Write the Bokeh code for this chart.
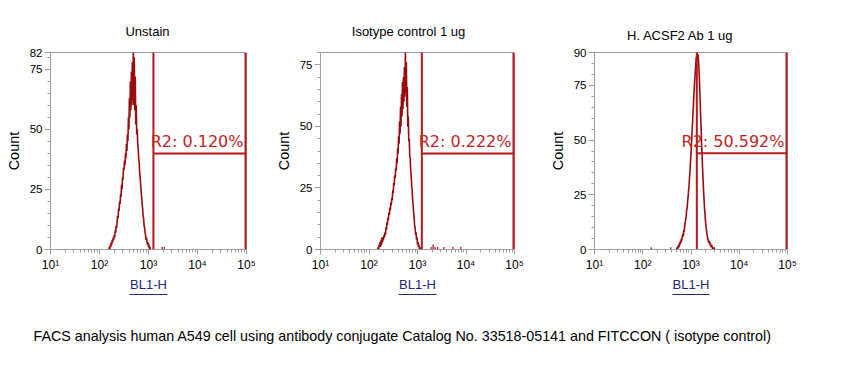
import numpy as np
from bokeh.plotting import figure
from bokeh.layouts import column, row
from bokeh.models import (Range1d, FixedTicker, LogTicker, CustomJSTickFormatter,
                          Label, LogAxis)
from bokeh.core.properties import value
from bokeh.embed import file_html
from bokeh.resources import INLINE

# ---------------- data ----------------
titles = ["Unstain", "Isotype control 1 ug", "H. ACSF2 Ab 1 ug"]
gate_texts = ["R2: 0.120%", "R2: 0.222%", "R2: 50.592%"]
y_max = [82, 80, 90]
y_ticks = [[0, 25, 50, 75, 82], [0, 25, 50, 75], [0, 25, 50, 75, 90]]
gate_left = [1260, 1230, 1320]      # BL1-H gate start
gate_right = [100000, 100000, 100000]
gate_level = [40, 39, 44]           # count level of gate bar
x_label = "BL1-H"
y_label = "Count"
caption = "FACS analysis human A549 cell using antibody conjugate Catalog No. 33518-05141 and FITCCON  ( isotype control)"

# histogram channels: log10 start, step 0.01 decade
unstain_start = 2.18
unstain_counts = [0, 0, 1, 0, 2, 1, 3, 2, 4, 3, 5, 4, 6, 5, 8, 7, 10, 9, 12, 14, 13, 17, 16, 20,
                  19, 23, 22, 27, 25, 30, 29, 34, 33, 37, 35, 40, 38, 44, 41, 48, 45, 55, 50, 63,
                  55, 70, 58, 74, 60, 78, 62, 82, 60, 80, 58, 72, 52, 60, 48, 50, 44, 42, 38, 36,
                  32, 30, 27, 24, 22, 19, 17, 14, 13, 10, 9, 7, 6, 4, 5, 3, 2, 3, 1, 2, 0, 1, 0]
isotype_start = 2.18
isotype_counts = [0, 1, 0, 2, 1, 3, 1, 4, 2, 5, 3, 5, 4, 6, 5, 7, 6, 9, 8, 11, 10, 13, 12, 15, 14,
                  17, 16, 19, 18, 21, 20, 24, 23, 27, 26, 30, 29, 33, 32, 37, 35, 41, 39, 46, 43,
                  52, 47, 58, 50, 63, 54, 68, 57, 70, 60, 74, 62, 80, 64, 76, 58, 66, 50, 54, 44,
                  45, 38, 37, 32, 30, 26, 24, 20, 18, 15, 13, 10, 9, 6, 7, 4, 5, 2, 3, 1, 2, 0, 1, 0]
acsf2_start = 2.70
acsf2_counts = [0, 1, 0, 1, 2, 1, 3, 2, 4, 3, 5, 4, 6, 7, 6, 9, 8, 11, 12, 14, 15, 18, 19, 22, 24,
                27, 29, 33, 36, 40, 44, 48, 53, 57, 62, 66, 71, 75, 78, 82, 85, 88, 86, 90, 87, 89,
                84, 80, 74, 68, 61, 55, 48, 43, 37, 32, 27, 23, 19, 16, 13, 11, 9, 7, 6, 5, 4, 3,
                4, 2, 3, 2, 1, 2, 1, 0, 1, 0, 1, 0, 0]
# sparse single events outside the main peak
unstain_tail_x = [1900, 2100]
unstain_tail_n = [1, 1]
isotype_tail_x = [1900, 2100, 2300, 2600, 3500, 5400, 7800]
isotype_tail_n = [1, 2, 1, 1, 1, 1, 1]
acsf2_tail_x = [150, 380]
acsf2_tail_n = [1, 1]

hists = [(unstain_start, unstain_counts, unstain_tail_x, unstain_tail_n),
         (isotype_start, isotype_counts, isotype_tail_x, isotype_tail_n),
         (acsf2_start, acsf2_counts, acsf2_tail_x, acsf2_tail_n)]

# ---------------- layout ----------------
HEADER_H = 45
CAPTION_H = 79
widths = [272, 274, 308]
b_left = [50, 47, 44]
b_right = [26, 32, 67]
B_TOP = 7
B_BOTTOM = 50
title_x = [147, 408, 680]
title_y = [31, 31, 35]
FRAME_H = 197

HIST_COLOR = "#970d0d"
GATE_COLOR = "#b81818"
TEXT_COLOR = "#c02626"
AXIS_COLOR = "#a0a0a0"
LABEL_BLUE = "#26267a"

sup_fmt = CustomJSTickFormatter(code="""
const s = {1:'\u00b9',2:'\u00b2',3:'\u00b3',4:'\u2074',5:'\u2075'};
const e = Math.round(Math.log10(tick));
return '10' + (s[e] || '');
""")

# header with panel titles
hdr = figure(width=854, height=HEADER_H, x_range=Range1d(0, 854), y_range=Range1d(HEADER_H, 0),
             output_backend="svg", toolbar_location=None, min_border=0)
hdr.axis.visible = False
hdr.grid.visible = False
hdr.outline_line_color = None
hdr.text(x=title_x, y=title_y, text=titles, text_align="center", text_baseline="middle",
         text_font=value("Liberation Sans"), text_font_size="13px", text_color="#000000")

figs = []
for i in range(3):
    p = figure(width=widths[i], height=B_TOP + FRAME_H + B_BOTTOM,
               x_axis_type="log", x_range=Range1d(10, 1e5), y_range=Range1d(0, y_max[i]),
               output_backend="svg", toolbar_location=None,
               min_border_left=b_left[i], min_border_right=b_right[i],
               min_border_top=B_TOP, min_border_bottom=B_BOTTOM)
    p.background_fill_color = "white"
    p.border_fill_color = "white"
    p.outline_line_color = AXIS_COLOR
    p.grid.visible = False

    # y axis
    ya = p.yaxis[0]
    ya.ticker = FixedTicker(ticks=y_ticks[i], minor_ticks=list(range(0, y_max[i] + 1, 5)))
    ya.axis_line_color = AXIS_COLOR
    ya.major_tick_line_color = AXIS_COLOR
    ya.minor_tick_line_color = AXIS_COLOR
    ya.major_tick_out = 6
    ya.major_tick_in = 0
    ya.minor_tick_out = 3
    ya.minor_tick_in = 0
    ya.major_label_text_font = "Liberation Sans"
    ya.major_label_text_font_size = "11.5px"
    ya.major_label_text_color = "#000000"
    ya.major_label_standoff = 2
    ya.axis_label = y_label
    ya.axis_label_text_font = "Liberation Sans"
    ya.axis_label_text_font_size = "14.5px"
    ya.axis_label_text_font_style = "normal"
    ya.axis_label_text_color = "#000000"
    ya.axis_label_standoff = 5

    # x axis
    xa = p.xaxis[0]
    xa.ticker = LogTicker(desired_num_ticks=5, num_minor_ticks=10)
    xa.formatter = sup_fmt
    xa.axis_line_color = AXIS_COLOR
    xa.major_tick_line_color = AXIS_COLOR
    xa.minor_tick_line_color = AXIS_COLOR
    xa.major_tick_out = 5
    xa.major_tick_in = 0
    xa.minor_tick_out = 3
    xa.minor_tick_in = 0
    xa.major_label_text_font = "Liberation Sans"
    xa.major_label_text_font_size = "12px"
    xa.major_label_text_color = "#000000"
    xa.major_label_standoff = 3
    xa.axis_label = x_label
    xa.axis_label_text_font = "Liberation Sans"
    xa.axis_label_text_font_size = "13px"
    xa.axis_label_text_font_style = "normal"
    xa.axis_label_text_color = LABEL_BLUE
    xa.axis_label_standoff = 2

    # underline of the x axis label: an extra bare axis line
    ul = LogAxis(bounds=(407, 2455), ticker=FixedTicker(ticks=[]),
                 axis_line_color=LABEL_BLUE, axis_line_width=1,
                 major_tick_out=0, major_tick_in=0, minor_tick_out=0, minor_tick_in=0,
                 major_label_text_font_size="0px")
    p.add_layout(ul, "below")

    # histogram
    start, counts, tx, tn = hists[i]
    xs = 10 ** (start + 0.01 * np.arange(len(counts)))
    p.line(xs, counts, line_color=HIST_COLOR, line_width=1.6)
    p.segment(x0=tx, y0=[0] * len(tx), x1=tx, y1=tn, line_color=HIST_COLOR, line_width=1.2)

    # gate
    p.segment(x0=[gate_left[i]], y0=[0], x1=[gate_left[i]], y1=[y_max[i]],
              line_color=GATE_COLOR, line_width=2)
    p.segment(x0=[gate_right[i]], y0=[0], x1=[gate_right[i]], y1=[y_max[i]],
              line_color=GATE_COLOR, line_width=4)
    p.segment(x0=[gate_left[i]], y0=[gate_level[i]], x1=[gate_right[i]], y1=[gate_level[i]],
              line_color=GATE_COLOR, line_width=2)
    p.add_layout(Label(x=gate_right[i], y=gate_level[i], text=gate_texts[i],
                       x_offset=-3, y_offset=2, text_align="right", text_baseline="bottom",
                       text_font="DejaVu Sans", text_font_size="16px",
                       text_color=TEXT_COLOR))
    figs.append(p)

cap = figure(width=854, height=CAPTION_H, x_range=Range1d(0, 854), y_range=Range1d(CAPTION_H, 0),
             output_backend="svg", toolbar_location=None, min_border=0)
cap.axis.visible = False
cap.grid.visible = False
cap.outline_line_color = None
cap.text(x=[33], y=[36], text=[caption], text_align="left", text_baseline="middle",
         text_font=value("Liberation Sans"), text_font_size="14.3px", text_color="#000000")

layout = column(hdr, row(*figs, spacing=0), cap, spacing=0)
open("out.html", "w").write(file_html(layout, INLINE))
